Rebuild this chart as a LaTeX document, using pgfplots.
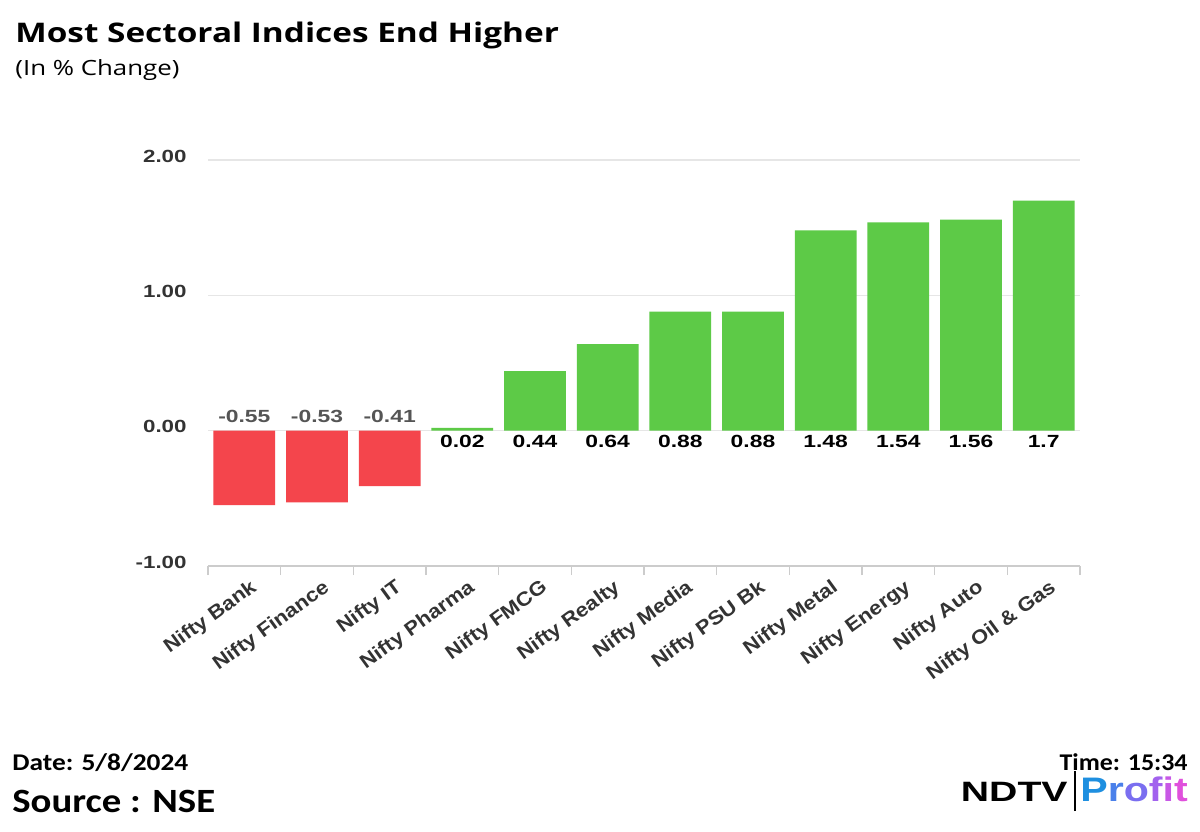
\documentclass[border=0pt]{standalone}
\usepackage{pgfplots}
\pgfplotsset{compat=1.18}
\usepackage{fontspec}
\setmainfont{Liberation Sans}
\newfontfamily\titlefont{Open Sans}
\newfontfamily\calfont{Carlito}
\definecolor{barred}{HTML}{F4454C}
\definecolor{bargreen}{HTML}{5DCA47}
\definecolor{gridc}{HTML}{E6E6E6}
\definecolor{axc}{HTML}{CCCCCC}
\definecolor{tickc}{HTML}{333333}
\definecolor{lblneg}{HTML}{555555}
\definecolor{pA}{HTML}{1E8FE0}
\definecolor{pB}{HTML}{4A80EA}
\definecolor{pC}{HTML}{7A6EF0}
\definecolor{pD}{HTML}{A262EE}
\definecolor{pE}{HTML}{C858E6}
\definecolor{pF}{HTML}{E050DC}
\newcommand{\ys}[1]{\scalebox{1.27}[1]{#1}}
\newcommand{\xs}[1]{\scalebox{1.12}[1]{#1}}
\begin{document}
\begin{tikzpicture}
\begin{scope}[x=0.5pt,y=0.5pt]
\useasboundingbox[fill=white] (0,0) rectangle (1200,831);
% titles
\node[anchor=base west, inner sep=0, font=\titlefont\bfseries\fontsize{13.5}{15}\selectfont] at (15,788) {\scalebox{1.235}[1]{Most Sectoral Indices End Higher}};
\node[anchor=base west, inner sep=0, font=\titlefont\fontsize{10.5}{12}\selectfont] at (15,755) {\scalebox{1.23}[1]{(In \% Change)}};
% footer
\node[anchor=base west, inner sep=0, font=\calfont\bfseries\fontsize{12}{13}\selectfont] at (12,61) {\scalebox{1.14}[1]{Date: 5/8/2024}};
\node[anchor=base west, inner sep=0, font=\calfont\bfseries\fontsize{17}{18}\selectfont] at (12,19) {\scalebox{1.14}[1]{Source : NSE}};
\node[anchor=base east, inner sep=0, font=\calfont\bfseries\fontsize{12}{13}\selectfont] at (1188,61) {\scalebox{1.08}[1]{Time: 15:34}};
\node[anchor=base east, inner sep=0, font=\bfseries\fontsize{14}{16}\selectfont] at (1068,30) {\scalebox{1.4}[1]{NDTV}};
\draw[black, line width=0.8pt] (1075,20) -- (1075,60);
\node[anchor=base west, inner sep=0, font=\bfseries\fontsize{17}{19}\selectfont] at (1080,30) {\scalebox{1.21}[1]{\textcolor{pA}{P}\textcolor{pB}{r}\textcolor{pC}{o}\textcolor{pD}{f}\textcolor{pE}{i}\textcolor{pF}{t}}};
\end{scope}
\begin{axis}[
  at={(104pt,132.5pt)}, anchor=south west, scale only axis,
  width=436pt, height=203pt,
  xmin=-0.5, xmax=11.5, ymin=-1, ymax=2,
  axis line style={draw=none},
  ytick={-1,0,1,2},
  yticklabels={\ys{-1.00},\ys{0.00},\ys{1.00},\ys{2.00}},
  ymajorgrids, grid style={gridc, line width=0.6pt},
  yticklabel style={font=\bfseries\fontsize{8.8}{10}\selectfont, text=tickc, anchor=east, inner sep=0pt, xshift=-10.5pt, yshift=2pt},
  xtick={0,...,11},
  xticklabels={\xs{Nifty Bank},\xs{Nifty Finance},\xs{Nifty IT},\xs{Nifty Pharma},\xs{Nifty FMCG},\xs{Nifty Realty},\xs{Nifty Media},\xs{Nifty PSU Bk},\xs{Nifty Metal},\xs{Nifty Energy},\xs{Nifty Auto},\xs{Nifty Oil \& Gas}},
  xticklabel style={font=\bfseries\fontsize{9.8}{11}\selectfont, text=tickc, rotate=36, anchor=east, inner sep=0pt, yshift=-11pt, xshift=-1.5pt},
  major tick length=0pt,
  xtick pos=left, ytick pos=left,
  extra x ticks={-0.5,0.5,1.5,2.5,3.5,4.5,5.5,6.5,7.5,8.5,9.5,10.5,11.5},
  extra x tick labels={},
  extra x tick style={major tick length=4.5pt, tick align=outside, tick style={axc, line width=0.6pt}},
  ybar, bar width=0.85, bar shift=0pt,
  clip=false,
]
\draw[axc, line width=0.8pt] (rel axis cs:0,0) -- (rel axis cs:1,0);
\addplot[fill=barred, draw=none] coordinates {(0,-0.55) (1,-0.53) (2,-0.41)};
\addplot[fill=bargreen, draw=none] coordinates {(3,0.02) (4,0.44) (5,0.64) (6,0.88) (7,0.88) (8,1.48) (9,1.54) (10,1.56) (11,1.7)};
\addplot[draw=none, mark=none, sharp plot, nodes near coords={\scalebox{1.3}[1]{\pgfplotspointmeta}}, point meta=explicit symbolic,
  nodes near coords style={font=\bfseries\fontsize{8.8}{10}\selectfont, text=lblneg, anchor=base, inner sep=0pt, yshift=4pt}]
  coordinates {(0,0)[-0.55] (1,0)[-0.53] (2,0)[-0.41]};
\addplot[draw=none, mark=none, sharp plot, nodes near coords={\scalebox{1.3}[1]{\pgfplotspointmeta}}, point meta=explicit symbolic,
  nodes near coords style={font=\bfseries\fontsize{8.8}{10}\selectfont, text=black, anchor=base, inner sep=0pt, yshift=-8.5pt}]
  coordinates {(3,0)[0.02] (4,0)[0.44] (5,0)[0.64] (6,0)[0.88] (7,0)[0.88] (8,0)[1.48] (9,0)[1.54] (10,0)[1.56] (11,0)[1.7]};
\end{axis}
\end{tikzpicture}
\end{document}
